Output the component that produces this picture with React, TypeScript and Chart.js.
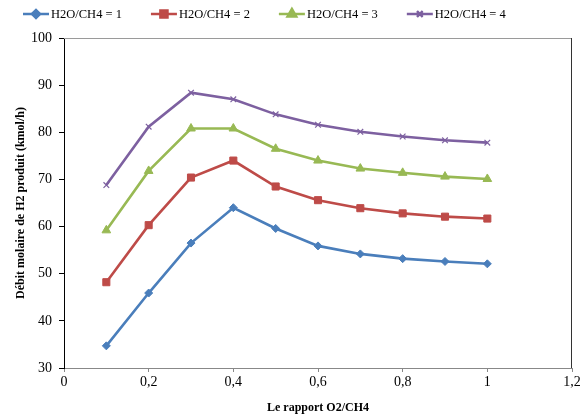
import { useEffect, useRef } from 'react';
import { Chart, registerables } from 'chart.js';
import { drawPoint } from 'chart.js/helpers';

Chart.register(...registerables);

const xValues = [0.1, 0.2, 0.3, 0.4, 0.5, 0.6, 0.7, 0.8, 0.9, 1.0];
const seriesLabels = ['H2O/CH4 = 1', 'H2O/CH4 = 2', 'H2O/CH4 = 3', 'H2O/CH4 = 4'];
const ratio1 = [34.7, 45.9, 56.5, 64.0, 59.6, 55.9, 54.2, 53.2, 52.6, 52.1];
const ratio2 = [48.2, 60.3, 70.4, 74.0, 68.5, 65.6, 63.9, 62.8, 62.1, 61.7];
const ratio3 = [59.2, 71.8, 80.8, 80.8, 76.5, 74.0, 72.3, 71.4, 70.6, 70.1];
const ratio4 = [68.8, 81.2, 88.4, 87.0, 83.8, 81.6, 80.1, 79.1, 78.3, 77.8];
const xTitle = 'Le rapport O2/CH4';
const yTitle = 'Débit molaire de H2 produit (kmol/h)';

const colors = ['#4A7EBB', '#BE4B48', '#98B954', '#7D60A0'];
const pointStyles = ['rectRot', 'rect', 'triangle', 'crossRot'];
const pointRadii = [4, 5, 5, 4];

const FONT = '"Liberation Serif", "Times New Roman", serif';

const frameLegendPlugin = {
  id: 'frameLegend',
  afterDraw(chart: any) {
    const { ctx, chartArea } = chart;
    ctx.save();
    // plot frame top & right
    ctx.lineWidth = 1;
    ctx.strokeStyle = '#9a9a9a';
    ctx.beginPath();
    ctx.moveTo(chartArea.left, chartArea.top + 0.5);
    ctx.lineTo(chartArea.right, chartArea.top + 0.5);
    ctx.stroke();
    ctx.strokeStyle = '#333333';
    ctx.beginPath();
    ctx.moveTo(chartArea.right - 0.5, chartArea.top);
    ctx.lineTo(chartArea.right - 0.5, chartArea.bottom);
    ctx.stroke();

    // legend
    ctx.font = '12.5px ' + FONT;
    ctx.textBaseline = 'middle';
    ctx.textAlign = 'left';
    let x = 23;
    const y = 14;
    chart.data.datasets.forEach((ds: any) => {
      ctx.strokeStyle = ds.borderColor;
      ctx.lineWidth = 2.5;
      ctx.beginPath();
      ctx.moveTo(x, y);
      ctx.lineTo(x + 26, y);
      ctx.stroke();
      drawPoint(ctx, {
        pointStyle: ds.pointStyle,
        radius: ds.pointRadius,
        rotation: 0,
        borderWidth: ds.pointBorderWidth,
      } as any, x + 13, y);
      ctx.fillStyle = ds.borderColor;
      ctx.strokeStyle = ds.borderColor;
      ctx.lineWidth = ds.pointBorderWidth;
      ctx.fill();
      ctx.stroke();
      ctx.fillStyle = '#000';
      ctx.fillText(ds.label, x + 28, y + 0.5);
      const w = ctx.measureText(ds.label).width;
      x += 28 + w + 29;
    });
    ctx.restore();
  },
};

export default function App() {
  const ref = useRef<HTMLCanvasElement>(null);
  useEffect(() => {
    const all = [ratio1, ratio2, ratio3, ratio4];
    const chart = new Chart(ref.current!, {
      type: 'line',
      data: {
        datasets: all.map((arr, i) => ({
          label: seriesLabels[i],
          data: xValues.map((x, j) => ({ x, y: arr[j] })),
          borderColor: colors[i],
          backgroundColor: colors[i],
          pointBackgroundColor: colors[i],
          pointBorderColor: colors[i],
          pointStyle: pointStyles[i],
          pointRadius: pointRadii[i],
          pointBorderWidth: i === 3 ? 1.2 : 1,
          borderWidth: 2.6,
          tension: 0,
        })),
      },
      options: {
        animation: false,
        responsive: false,
        layout: { padding: { top: 38, right: 15, bottom: 0, left: 0 } },
        plugins: { legend: { display: false }, tooltip: { enabled: false } },
        scales: {
          x: {
            type: 'linear',
            min: 0,
            max: 1.2,
            afterFit: (s: any) => { s.height = 52; },
            ticks: {
              stepSize: 0.2,
              color: '#000',
              font: { family: FONT, size: 14 },
              padding: 2,
              maxRotation: 0,
              callback: (v: any) => String(Math.round(Number(v) * 10) / 10).replace('.', ','),
            },
            grid: { drawOnChartArea: false, drawTicks: true, tickLength: 4, color: '#888888' },
            border: { display: true, color: '#888888', width: 1 },
            title: {
              display: true,
              text: xTitle,
              color: '#000',
              font: { family: FONT, size: 12, weight: 'bold' },
              padding: { top: 0, bottom: 5 },
            },
          },
          y: {
            min: 30,
            max: 100,
            afterFit: (s: any) => { s.width = 64; },
            ticks: {
              stepSize: 10,
              color: '#000',
              font: { family: FONT, size: 14 },
              padding: 7,
            },
            grid: { drawOnChartArea: false, drawTicks: true, tickLength: 5, color: '#000' },
            border: { display: true, color: '#000', width: 1 },
            title: {
              display: true,
              text: yTitle,
              color: '#000',
              font: { family: FONT, size: 12, weight: 'bold' },
              padding: { top: 14, bottom: 0 },
            },
          },
        },
      },
      plugins: [frameLegendPlugin],
    } as any);
    return () => chart.destroy();
  }, []);
  return (
    <div style={{ position: 'absolute', left: 0, top: 0, width: 587, height: 420, background: '#fff' }}>
      <canvas ref={ref} width={587} height={420} />
    </div>
  );
}
